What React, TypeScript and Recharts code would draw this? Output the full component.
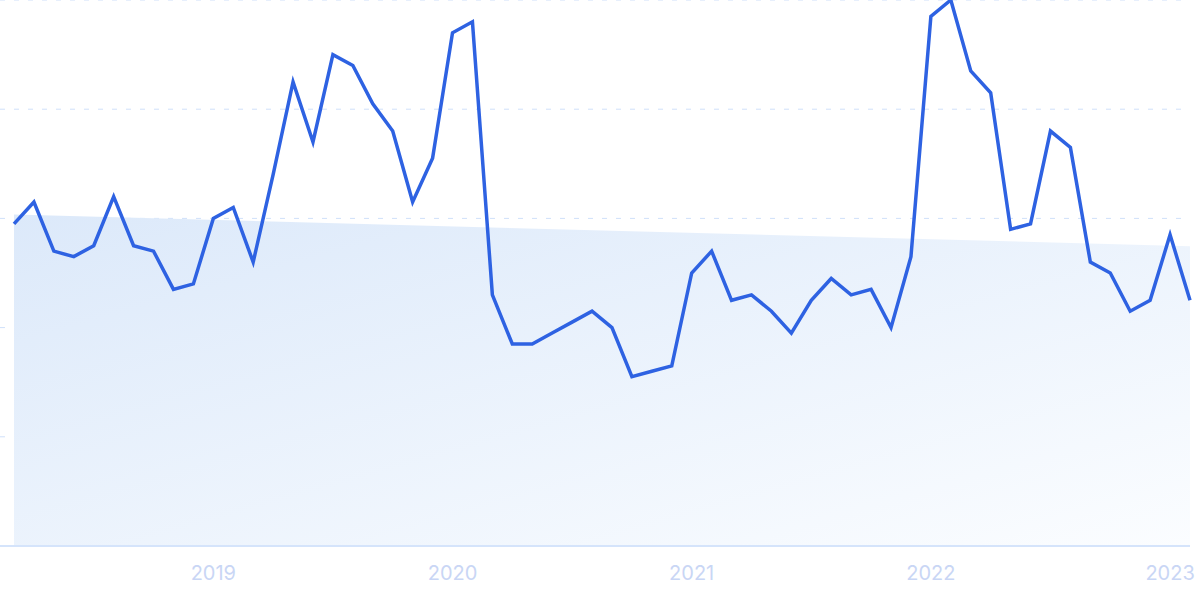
import { ComposedChart, Line, Area, XAxis, YAxis, CartesianGrid } from "recharts"

const months = [
  "2018-03", "2018-04", "2018-05", "2018-06", "2018-07", "2018-08", "2018-09", "2018-10", "2018-11", "2018-12",
  "2019-01", "2019-02", "2019-03", "2019-04", "2019-05", "2019-06", "2019-07", "2019-08", "2019-09", "2019-10", "2019-11", "2019-12",
  "2020-01", "2020-02", "2020-03", "2020-04", "2020-05", "2020-06", "2020-07", "2020-08", "2020-09", "2020-10", "2020-11", "2020-12",
  "2021-01", "2021-02", "2021-03", "2021-04", "2021-05", "2021-06", "2021-07", "2021-08", "2021-09", "2021-10", "2021-11", "2021-12",
  "2022-01", "2022-02", "2022-03", "2022-04", "2022-05", "2022-06", "2022-07", "2022-08", "2022-09", "2022-10", "2022-11", "2022-12",
  "2023-01", "2023-02",
]

const interest = [
  59, 63, 54, 53, 55, 64, 55, 54, 47, 48,
  60, 62, 52, 68, 85, 74, 90, 88, 81, 76, 63, 71,
  94, 96, 46, 37, 37, 39, 41, 43, 40, 31, 32, 33,
  50, 54, 45, 46, 43, 39, 45, 49, 46, 47, 40, 53,
  97, 100, 87, 83, 58, 59, 76, 73, 52, 50, 43, 45,
  57, 45,
]

// trend line: only the two end values, joined straight
const trendStart = 60.7
const trendEnd = 54.9

const yearTicks = ["2019-01", "2020-01", "2021-01", "2022-01", "2023-01"]
const yTicks = [0, 20, 40, 60, 80, 100]

const data = months.map((m, i) => ({
  month: m,
  value: interest[i],
  trend: i === 0 ? trendStart : i === months.length - 1 ? trendEnd : null,
}))

export default function App() {
  return (
    <div style={{ position: "absolute", left: 0, top: 0, width: 1200, height: 599, background: "#fff" }}>
      <ComposedChart width={1200} height={599} data={data} margin={{ top: 0, right: 10, bottom: 0, left: 0 }}>
        <defs>
          <linearGradient id="trendFill" x1="0" y1="0" x2="1" y2="1">
            <stop offset="0%" stopColor="#dce9fa" />
            <stop offset="100%" stopColor="#fbfdff" />
          </linearGradient>
        </defs>
        <CartesianGrid vertical={false} stroke="#cfe0fa" strokeDasharray="5 9" />
        <XAxis
          dataKey="month"
          ticks={yearTicks}
          interval={0}
          tickFormatter={(m: string) => m.slice(0, 4)}
          padding={{ left: 14, right: 0 }}
          height={53}
          tickLine={false}
          tickMargin={14}
          axisLine={{ stroke: "#d5e4fb", strokeWidth: 2 }}
          tick={{ fill: "#c9d6f5", fontSize: 20, fontFamily: "Inter, sans-serif" }}
        />
        <YAxis hide domain={[0, 100]} ticks={yTicks} />
        <Area
          type="linear"
          dataKey="trend"
          connectNulls
          stroke="none"
          fill="url(#trendFill)"
          fillOpacity={1}
          dot={false}
          activeDot={false}
          isAnimationActive={false}
        />
        <Line
          type="linear"
          dataKey="value"
          stroke="#2e62e2"
          strokeWidth={3.5}
          dot={false}
          activeDot={false}
          isAnimationActive={false}
        />
      </ComposedChart>
    </div>
  )
}
